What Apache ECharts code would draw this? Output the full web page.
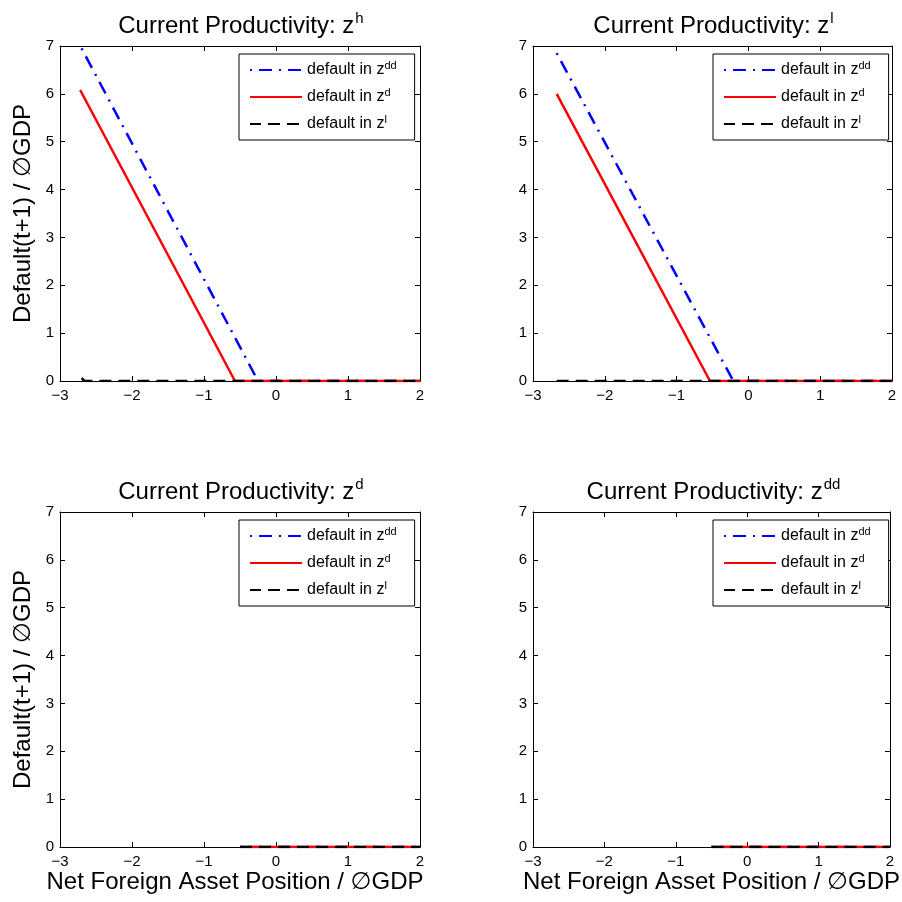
<!DOCTYPE html>
<html>
<head>
<meta charset="utf-8">
<script src="https://cdn.jsdelivr.net/npm/echarts@6/dist/echarts.min.js"></script>
<style>html,body{margin:0;padding:0;background:#fff;}#c{width:902px;height:902px;}</style>
</head>
<body>
<div id="c"></div>
<script>
// ---- data ----
const panelTitles = ['h', 'l', 'd', 'dd'];      // current productivity superscripts
const seriesNames = ['dd', 'd', 'l'];           // default in z^...
const xTicks = [-3, -2, -1, 0, 1, 2];
const yTicks = [0, 1, 2, 3, 4, 5, 6, 7];

// panel 1 (z^h)
const p1_dd_x = [-2.70, -0.25, 2];  const p1_dd_y = [6.95, 0, 0];
const p1_d_x  = [-2.72, -0.57, 2];  const p1_d_y  = [6.08, 0, 0];
const p1_l_x  = [-2.70, -2.66, 2];  const p1_l_y  = [0.06, 0, 0];
// panel 2 (z^l)
const p2_dd_x = [-2.67, -0.21, 2];  const p2_dd_y = [6.85, 0, 0];
const p2_d_x  = [-2.67, -0.535, 2]; const p2_d_y  = [6.00, 0, 0];
const p2_l_x  = [-2.67, 2];         const p2_l_y  = [0, 0];
// panel 3 (z^d)
const p3_dd_x = [-0.5, 2]; const p3_dd_y = [0, 0];
const p3_d_x  = [-0.5, 2]; const p3_d_y  = [0, 0];
const p3_l_x  = [-0.5, 2]; const p3_l_y  = [0, 0];
// panel 4 (z^dd)
const p4_dd_x = [-0.5, 2]; const p4_dd_y = [0, 0];
const p4_d_x  = [-0.5, 2]; const p4_d_y  = [0, 0];
const p4_l_x  = [-0.5, 2]; const p4_l_y  = [0, 0];

const panels = [
  [[p1_dd_x, p1_dd_y], [p1_d_x, p1_d_y], [p1_l_x, p1_l_y]],
  [[p2_dd_x, p2_dd_y], [p2_d_x, p2_d_y], [p2_l_x, p2_l_y]],
  [[p3_dd_x, p3_dd_y], [p3_d_x, p3_d_y], [p3_l_x, p3_l_y]],
  [[p4_dd_x, p4_dd_y], [p4_d_x, p4_d_y], [p4_l_x, p4_l_y]]
];

// ---- layout / style ----
const FONT = "'Liberation Sans', Arial, 'DejaVu Sans', sans-serif";
const grids = [
  {left: 60, top: 46, width: 360, height: 335},
  {left: 533, top: 46, width: 359, height: 335},
  {left: 60, top: 512, width: 360, height: 335},
  {left: 533, top: 512, width: 359, height: 335}
];
const lineStyles = [
  {color: '#0000ff', width: 2.5, type: [13, 7, 2, 7], dashOffset: 20},
  {color: '#ff0000', width: 2.5, type: 'solid'},
  {color: '#000000', width: 2.5, type: [12, 7]}
];
const minusFmt = v => (v < 0 ? '\u2212' + (-v) : String(v));

const option = {
  animation: false,
  backgroundColor: '#fff',
  title: [], grid: [], xAxis: [], yAxis: [], legend: [], series: []
};

grids.forEach((g, i) => {
  option.grid.push(Object.assign({containLabel: false}, g));
  option.title.push({
    text: 'Current Productivity: z{s|' + panelTitles[i] + '}',
    left: g.left + g.width / 2 - 4,
    top: g.top - 40,
    textAlign: 'center',
    textStyle: {
      fontFamily: FONT, fontSize: 24, fontWeight: 'normal', color: '#000', lineHeight: 30,
      rich: {s: {fontFamily: FONT, fontSize: 15, color: '#000', verticalAlign: 'top', lineHeight: 16, padding: [0, 0, 0, 1]}}
    }
  });
  const bottom = i >= 2;
  const left = i % 2 === 0;
  option.xAxis.push({
    type: 'value', gridIndex: i, min: xTicks[0], max: xTicks[xTicks.length - 1], interval: 1,
    position: 'bottom',
    axisLine: {show: true, onZero: false, lineStyle: {color: '#000', width: 1}},
    axisTick: {show: true, inside: true, length: 5, lineStyle: {color: '#000'}},
    axisLabel: {color: '#000', fontFamily: FONT, fontSize: 15, margin: 7, formatter: minusFmt},
    splitLine: {show: false},
    name: bottom ? 'Net Foreign Asset Position / \u2205GDP' : '',
    nameLocation: 'middle', nameGap: 20,
    nameTextStyle: {color: '#000', fontFamily: FONT, fontSize: 24, verticalAlign: 'top',
                    padding: left ? [0, 10, 0, 0] : 0}
  });
  option.xAxis.push({
    type: 'value', gridIndex: i, min: xTicks[0], max: xTicks[xTicks.length - 1], interval: 1,
    position: 'top',
    axisLine: {show: true, onZero: false, lineStyle: {color: '#000', width: 1}},
    axisTick: {show: true, inside: true, length: 5, lineStyle: {color: '#000'}},
    axisLabel: {show: false}, splitLine: {show: false}
  });
  option.yAxis.push({
    type: 'value', gridIndex: i, min: yTicks[0], max: yTicks[yTicks.length - 1], interval: 1,
    position: 'left',
    axisLine: {show: true, onZero: false, lineStyle: {color: '#000', width: 1}},
    axisTick: {show: true, inside: true, length: 5, lineStyle: {color: '#000'}},
    axisLabel: {color: '#000', fontFamily: FONT, fontSize: 15, margin: 6},
    splitLine: {show: false},
    name: left ? 'Default(t+1) / \u2205GDP' : '',
    nameLocation: 'middle', nameGap: 25, nameRotate: 90,
    nameTextStyle: {color: '#000', fontFamily: FONT, fontSize: 24}
  });
  option.yAxis.push({
    type: 'value', gridIndex: i, min: yTicks[0], max: yTicks[yTicks.length - 1], interval: 1,
    position: 'right',
    axisLine: {show: true, onZero: false, lineStyle: {color: '#000', width: 1}},
    axisTick: {show: true, inside: true, length: 5, lineStyle: {color: '#000'}},
    axisLabel: {show: false}, splitLine: {show: false}
  });

  option.legend.push({
    data: seriesNames,
    orient: 'vertical',
    left: g.left + g.width - 181 + (left ? 0 : 2),
    top: g.top + 8,
    backgroundColor: '#fff',
    borderColor: '#000', borderWidth: 1,
    padding: [6, 18, 6, 10],
    itemWidth: 52, itemHeight: 14, itemGap: 7,
    selectedMode: false,
    itemStyle: {opacity: 0},
    formatter: name => 'default in z{s|' + name + '}',
    textStyle: {
      fontFamily: FONT, fontSize: 16, color: '#000', lineHeight: 20,
      rich: {s: {fontFamily: FONT, fontSize: 11, color: '#000', verticalAlign: 'top', lineHeight: 12}}
    }
  });

  panels[i].forEach((pair, k) => {
    const xs = pair[0], ys = pair[1];
    option.series.push({
      type: 'line', name: seriesNames[k],
      xAxisIndex: 2 * i, yAxisIndex: 2 * i,
      data: xs.map((x, j) => [x, ys[j]]),
      showSymbol: false, symbol: 'none',
      lineStyle: Object.assign({}, lineStyles[k]),
      itemStyle: {color: lineStyles[k].color},
      clip: true, z: 2 + k
    });
  });
});

const chart = echarts.init(document.getElementById('c'), null, {renderer: 'canvas'});
chart.setOption(option);
</script>
</body>
</html>
